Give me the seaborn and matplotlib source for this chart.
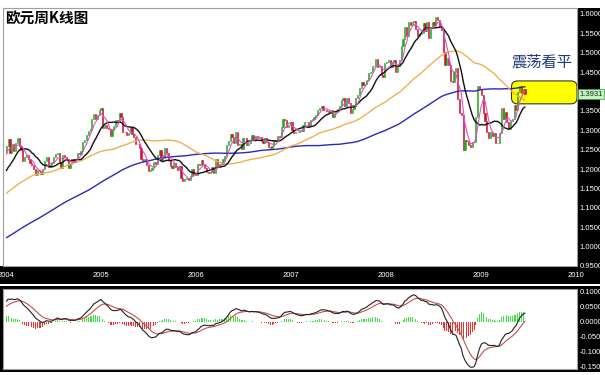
import numpy as np
import pandas as pd
import matplotlib
matplotlib.use("Agg")
import matplotlib.pyplot as plt
import matplotlib.dates as mdates
from matplotlib.patches import FancyBboxPatch, Rectangle
from matplotlib.transforms import IdentityTransform, blended_transform_factory
import seaborn as sns

# EUR/USD weekly closes (Friday). 2001-2003 only feed the long averages / MACD warm-up.
close_2001 = [0.908, 0.915, 0.915, 0.901, 0.915, 0.921, 0.913, 0.918, 0.908, 0.898, 0.898,
              0.904, 0.893, 0.878, 0.882, 0.896, 0.892, 0.896, 0.888, 0.889]
close_2002 = [0.890, 0.885, 0.865, 0.860, 0.862, 0.870, 0.870, 0.865, 0.870, 0.877, 0.877, 0.875, 0.877,
              0.880, 0.880, 0.887, 0.893, 0.905, 0.910, 0.910, 0.925, 0.932, 0.937, 0.950, 0.955, 0.985,
              0.990, 1.010, 1.000, 0.975, 0.978, 0.975, 0.985, 0.980, 0.987, 0.985, 0.975, 0.980, 0.985,
              0.975, 0.985, 0.980, 0.985, 0.990, 1.005, 1.000, 0.990, 0.990, 1.003, 1.020, 1.025, 1.045]
close_2003 = [1.050, 1.055, 1.065, 1.080, 1.075, 1.080, 1.075, 1.080, 1.080, 1.095, 1.095, 1.065, 1.080,
              1.070, 1.080, 1.095, 1.115, 1.130, 1.145, 1.155, 1.175, 1.180, 1.170, 1.180, 1.175, 1.150,
              1.145, 1.135, 1.130, 1.130, 1.145, 1.125, 1.110, 1.095, 1.105, 1.115, 1.130, 1.150, 1.160,
              1.170, 1.165, 1.165, 1.165, 1.160, 1.150, 1.175, 1.180, 1.195, 1.220, 1.230, 1.235, 1.245]
close_2004 = [1.259, 1.277, 1.242, 1.264, 1.247, 1.266, 1.280, 1.260, 1.248, 1.220, 1.230, 1.235, 1.225,
              1.215, 1.210, 1.200, 1.185, 1.198, 1.195, 1.188, 1.200, 1.220, 1.230, 1.205, 1.210, 1.215,
              1.230, 1.238, 1.242, 1.218, 1.203, 1.235, 1.230, 1.225, 1.203, 1.212, 1.225, 1.217, 1.226,
              1.242, 1.238, 1.247, 1.270, 1.276, 1.288, 1.298, 1.303, 1.328, 1.342, 1.330, 1.339, 1.352,
              1.356]
close_2005 = [1.306, 1.313, 1.306, 1.304, 1.285, 1.300, 1.312, 1.326, 1.325, 1.345, 1.335, 1.296, 1.295,
              1.288, 1.292, 1.307, 1.290, 1.282, 1.264, 1.265, 1.255, 1.226, 1.221, 1.227, 1.210, 1.195,
              1.197, 1.202, 1.218, 1.213, 1.236, 1.248, 1.222, 1.229, 1.253, 1.241, 1.222, 1.207, 1.203,
              1.215, 1.205, 1.197, 1.207, 1.178, 1.168, 1.175, 1.177, 1.172, 1.183, 1.201, 1.186, 1.184]
close_2006 = [1.213, 1.210, 1.222, 1.213, 1.203, 1.193, 1.190, 1.191, 1.204, 1.190, 1.227, 1.204, 1.212,
              1.213, 1.227, 1.234, 1.262, 1.271, 1.290, 1.282, 1.267, 1.295, 1.263, 1.264, 1.252, 1.279,
              1.280, 1.263, 1.268, 1.275, 1.288, 1.276, 1.285, 1.280, 1.282, 1.273, 1.268, 1.281, 1.269,
              1.257, 1.254, 1.260, 1.275, 1.272, 1.284, 1.282, 1.308, 1.328, 1.326, 1.309, 1.314, 1.320]
close_2007 = [1.300, 1.293, 1.296, 1.296, 1.300, 1.298, 1.313, 1.322, 1.322, 1.312, 1.327, 1.330, 1.335,
              1.340, 1.352, 1.358, 1.363, 1.352, 1.352, 1.350, 1.346, 1.352, 1.334, 1.342, 1.348, 1.354,
              1.362, 1.379, 1.382, 1.363, 1.383, 1.371, 1.345, 1.355, 1.363, 1.384, 1.390, 1.409, 1.425,
              1.416, 1.419, 1.429, 1.448, 1.450, 1.465, 1.465, 1.483, 1.463, 1.465, 1.442, 1.436, 1.472]
close_2008 = [1.475, 1.480, 1.462, 1.477, 1.482, 1.450, 1.465, 1.481, 1.518, 1.535, 1.566, 1.543, 1.578,
              1.570, 1.580, 1.581, 1.560, 1.544, 1.548, 1.550, 1.577, 1.555, 1.579, 1.538, 1.563, 1.580,
              1.570, 1.591, 1.585, 1.569, 1.559, 1.501, 1.468, 1.486, 1.467, 1.426, 1.423, 1.450, 1.460,
              1.380, 1.345, 1.340, 1.250, 1.274, 1.272, 1.263, 1.258, 1.270, 1.270, 1.333, 1.415, 1.405]
close_2009 = [1.392, 1.344, 1.324, 1.295, 1.280, 1.295, 1.286, 1.292, 1.267, 1.266, 1.293, 1.358, 1.328,
              1.348, 1.320, 1.303, 1.323, 1.328, 1.365, 1.352, 1.399, 1.415, 1.396, 1.405, 1.3931]

years = ["2004", "2005", "2006", "2007", "2008", "2009", "2010"]
# 1.4000 is hidden behind the last-price tag
price_ticks = [0.95, 1.00, 1.05, 1.10, 1.15, 1.20, 1.25, 1.30, 1.35, 1.45, 1.50, 1.55, 1.60]
macd_ticks = [0.10, 0.05, 0.00, -0.05, -0.10, -0.15]
ma_windows = [5, 13, 52, 120]
macd_gain = 2.2  # panel in the source is drawn at this scale
title = "欧元周K线图"
note = "震荡看平"
last_label = "1.3931"
zone_start, zone_low, zone_high = "2009-04-28", 1.368, 1.427

sns.set_theme(style="white")
plt.rcParams["font.family"] = ["Noto Sans CJK SC", "DejaVu Sans"]
narrow = ["Liberation Sans Narrow", "Liberation Sans", "DejaVu Sans"]

closes = (close_2001 + close_2002 + close_2003 + close_2004 + close_2005 + close_2006
          + close_2007 + close_2008 + close_2009)
df = pd.DataFrame({"date": pd.date_range("2001-08-17", periods=len(closes), freq="W-FRI"),
                   "close": closes})
df["open"] = df["close"].shift(1).fillna(df["close"])
for n in ma_windows:
    df[f"ma{n}"] = df["close"].rolling(n).mean()
ema_fast = df["close"].ewm(span=12, adjust=False).mean()
ema_slow = df["close"].ewm(span=26, adjust=False).mean()
df["dif"] = (ema_fast - ema_slow) * macd_gain
df["dea"] = df["dif"].ewm(span=9, adjust=False).mean()
df["hist"] = df["dif"] - df["dea"]
view = df[df["date"] >= "2004-01-01"].reset_index(drop=True)

W, H = 605, 375
fig = plt.figure(figsize=(W / 100, H / 100), dpi=100)
fig.patch.set_facecolor("white")


def rect(x0, y0, x1, y1):
    # pixel box (top-left origin) -> figure fraction
    return [x0 / W, 1 - y1 / H, (x1 - x0) / W, (y1 - y0) / H]


for r in (rect(577, 8, 600, 284), rect(0, 266, 600, 284), rect(0, 286, 600, 372)):
    fig.add_artist(Rectangle((r[0], r[1]), r[2], r[3], transform=fig.transFigure,
                             facecolor="black", edgecolor="none", zorder=-1))

ax = fig.add_axes(rect(3, 8, 577, 266))
axm = fig.add_axes(rect(3, 289, 577, 369))
xmin, xmax = pd.Timestamp("2003-12-20"), pd.Timestamp("2010-01-05")

# candles
up = view["close"] >= view["open"]
ccol = np.where(up, "#1faa1f", "#c8102e")
ax.bar(view["date"], view["close"] - view["open"], bottom=view["open"], width=4.5,
       color=ccol, edgecolor=ccol, linewidth=0.4, zorder=2)

sns.lineplot(data=view, x="date", y="ma120", ax=ax, color="#2a2ab8", linewidth=1.0, zorder=3)
sns.lineplot(data=view, x="date", y="ma52", ax=ax, color="#f0b050", linewidth=1.0, zorder=3)
sns.lineplot(data=view, x="date", y="ma13", ax=ax, color="#111111", linewidth=1.0, zorder=4)
sns.lineplot(data=view, x="date", y="ma5", ax=ax, color="#e050c8", linewidth=0.8, zorder=4)

ax.set_xlim(xmin, xmax)
ax.set_ylim(0.95, 1.615)
ax.set_xlabel("")
ax.set_ylabel("")
ax.yaxis.tick_right()
ax.set_yticks(price_ticks, labels=[f"{v:.4f}" for v in price_ticks], fontsize=5.5, color="white", family=narrow)
ax.set_xticks([pd.Timestamp(f"{y}-01-01") for y in years], labels=years, fontsize=5.5, color="white", family=narrow)
ax.tick_params(axis="both", length=0)
ax.tick_params(axis="y", pad=2)
ax.tick_params(axis="x", pad=4)
for s in ax.spines.values():
    s.set_color("#a0a0a0")
    s.set_linewidth(0.8)

ax.text(0.004, 0.995, title, transform=ax.transAxes, ha="left", va="top",
        fontsize=10.5, fontweight="bold", color="black")

# highlighted zone
fig.canvas.draw()
zx0, zy0 = ax.transData.transform((mdates.date2num(pd.Timestamp(zone_start)), zone_low))
zx1, zy1 = ax.transData.transform((mdates.date2num(xmax), zone_high))
ax.add_artist(FancyBboxPatch((zx0, zy0), zx1 - zx0, zy1 - zy0,
                             boxstyle="round,pad=0,rounding_size=6", transform=IdentityTransform(),
                             facecolor="#ffff00", edgecolor="#333333", linewidth=0.8,
                             clip_on=False, zorder=1))
ax.text(pd.Timestamp("2009-08-25"), 1.476, note, ha="center", va="center",
        fontsize=11, color="#1f3a78", zorder=5)
ax.text(1.004, 1.3931, last_label, transform=blended_transform_factory(ax.transAxes, ax.transData),
        ha="left", va="center", fontsize=5.5, color="#0a3a0a", family=narrow, zorder=6, clip_on=False,
        bbox=dict(boxstyle="square,pad=0.2", facecolor="#c8f0c8", edgecolor="#40a040", linewidth=0.5))

# MACD panel
hcol = np.where(view["hist"] >= 0, "#40e040", "#f03030")
axm.bar(view["date"], view["hist"], width=3.5, color=hcol, linewidth=0, zorder=2)
sns.lineplot(data=view, x="date", y="dea", ax=axm, color="#c05050", linewidth=0.8, zorder=3)
sns.lineplot(data=view, x="date", y="dif", ax=axm, color="#222222", linewidth=0.8, zorder=4)
axm.set_xlim(xmin, xmax)
axm.set_ylim(-0.16, 0.11)
axm.set_xlabel("")
axm.set_ylabel("")
axm.set_xticks([])
axm.yaxis.tick_right()
axm.set_yticks(macd_ticks, labels=[f"{v:.4f}" for v in macd_ticks], fontsize=5.5, color="white", family=narrow)
axm.tick_params(axis="y", length=0, pad=2)
for s in axm.spines.values():
    s.set_color("#a0a0a0")
    s.set_linewidth(0.8)

fig.savefig("out.png", dpi=100)
